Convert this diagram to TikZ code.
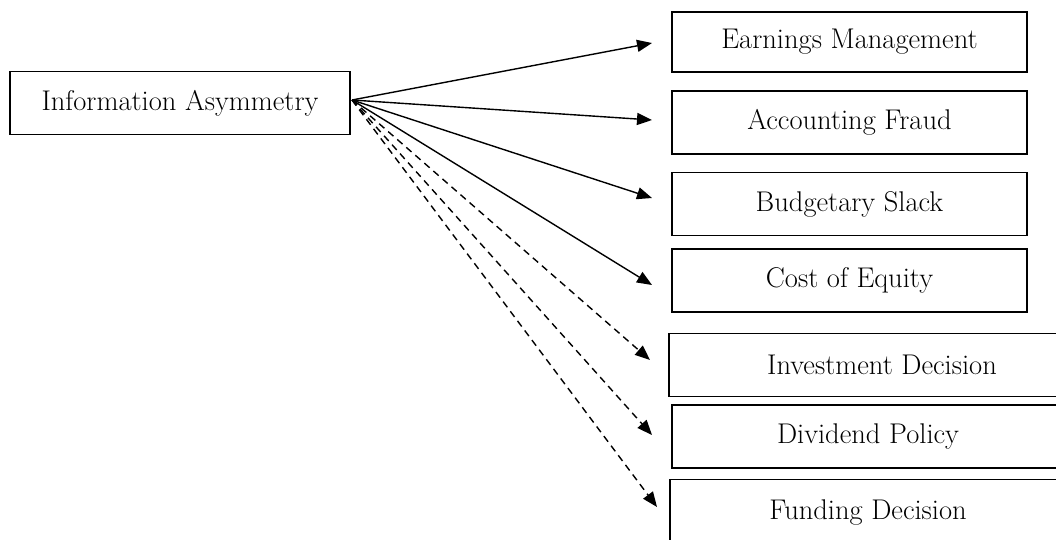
\documentclass[tikz,border=0pt]{standalone}
\usetikzlibrary{arrows.meta, positioning}

\begin{document}
\begin{tikzpicture} [x = 1pt, y = -1pt, on grid,
    box/.style = {draw, line width = 1.6pt, inner sep = 0pt, minimum height = 63pt,
                  font = \fontsize{28.5}{32}\selectfont},
    link/.style = {-{Triangle[length = 15pt, width = 12pt]}, line width = 1.4pt},
    weak/.style = {link, dash pattern = on 7pt off 5pt}]
    \useasboundingbox (0,0) rectangle (1056,539);

    \node (ia) [box, minimum width = 340pt] at (180,103) {Information Asymmetry};

    \node (em) [box, minimum width = 355pt, minimum height = 60pt] at (849.5,42) {Earnings Management};
    \node (af) [box, minimum width = 355pt, below = 80.5pt of em] {Accounting Fraud};
    \node (bs) [box, minimum width = 355pt, below = 81.5pt of af] {Budgetary Slack};
    \node (ce) [box, minimum width = 355pt, below = 76.5pt of bs] {Cost of Equity};
    \node (id) [box, minimum width = 426pt, below right = 84.5pt and 32.5pt of ce] {Investment Decision};
    \node (dp) [box, minimum width = 392pt, below left = 71.5pt and 14pt of id] {Dividend Policy};
    \node (fd) [box, minimum width = 396pt, minimum height = 66pt, below = 76pt of dp] {Funding Decision};

    \coordinate (ia-out) at (352,100);
    \coordinate (em-in) at (652,43);
    \coordinate (af-in) at (652,120);
    \coordinate (bs-in) at (652,198);
    \coordinate (ce-in) at (652,285);
    \coordinate (id-in) at (650,360);
    \coordinate (dp-in) at (652,435);
    \coordinate (fd-in) at (657,507);

    \path [link] (ia-out) edge (em-in);
    \path [link] (ia-out) edge (af-in);
    \path [link] (ia-out) edge (bs-in);
    \path [link] (ia-out) edge (ce-in);
    \path [weak] (ia-out) edge (id-in);
    \path [weak] (ia-out) edge (dp-in);
    \path [weak] (ia-out) edge (fd-in);
\end{tikzpicture}
\end{document}
